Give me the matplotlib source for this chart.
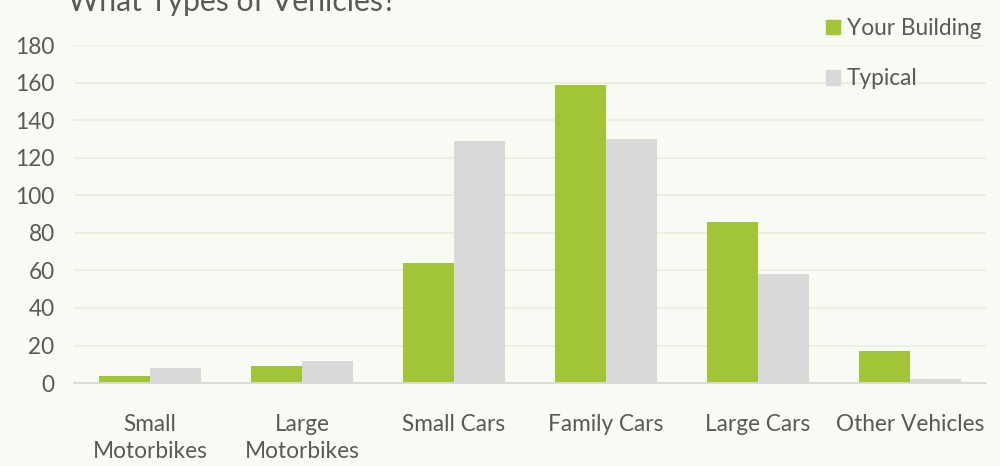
import numpy as np
import matplotlib.pyplot as plt
from matplotlib.patches import Patch

categories = ['Small\nMotorbikes', 'Large\nMotorbikes', 'Small Cars', 'Family Cars', 'Large Cars', 'Other Vehicles']
your_building = [4, 9, 64, 159, 86, 17]
typical = [8, 12, 129, 130, 58, 2]
yticks = [0, 20, 40, 60, 80, 100, 120, 140, 160, 180]

bg = '#f8faf4'
green = '#a2c437'
grey = '#d9d9d9'
text_col = '#595959'

plt.rcParams['font.family'] = ['Lato', 'DejaVu Sans']

fig = plt.figure(figsize=(10, 4.66), dpi=100, facecolor=bg)
ax = fig.add_axes([0.074, 0.178, 0.912, 0.725])
ax.set_facecolor(bg)

x = np.arange(len(categories))
w = 0.336
ax.bar(x - w / 2, your_building, w, color=green, zorder=3)
ax.bar(x + w / 2, typical, w, color=grey, zorder=3)

ax.set_xlim(-0.5, len(categories) - 0.5)
ax.set_ylim(0, 180)
ax.set_yticks(yticks)
ax.set_yticklabels([str(v) for v in yticks])
ax.set_xticks(x)
ax.set_xticklabels(categories, linespacing=1.35)

ax.grid(axis='y', color='#e9eedd', linewidth=1.3, zorder=0)
for s in ['top', 'right', 'left']:
    ax.spines[s].set_visible(False)
ax.spines['bottom'].set_color(grey)
ax.spines['bottom'].set_linewidth(1.3)
ax.spines['bottom'].set_zorder(4)
ax.tick_params(axis='both', length=0, labelsize=16.3, colors=text_col)
ax.tick_params(axis='x', pad=22)
ax.tick_params(axis='y', pad=14)

fig.text(0.068, 0.995, 'What Types of Vehicles?', fontsize=21.7, color=text_col,
         ha='left', va='center')

handles = [Patch(color=green, label='Your Building'), Patch(color=grey, label='Typical')]
fig.legend(handles=handles, loc='upper left', bbox_to_anchor=(0.806, 1.005), frameon=False,
           fontsize=16.3, labelcolor=text_col, handlelength=0.6, handleheight=0.6,
           handletextpad=0.3, labelspacing=1.3)

fig.savefig('out.png', dpi=100, facecolor=bg)
